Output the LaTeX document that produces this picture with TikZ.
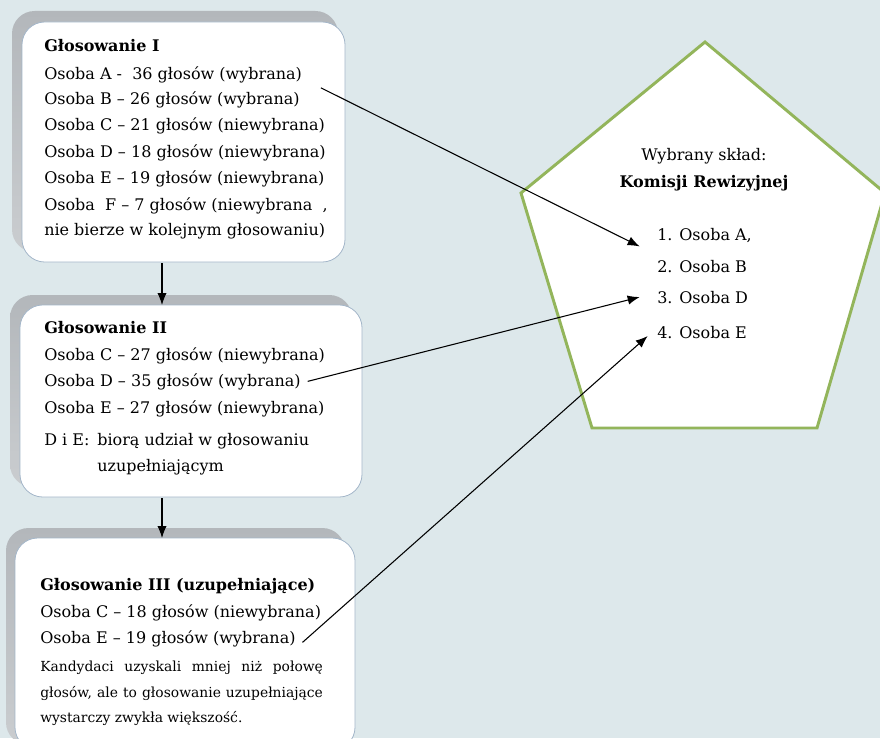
\documentclass[tikz,border=0pt]{standalone}
\usepackage{fontspec}
\setmainfont{DejaVu Serif}
\usetikzlibrary{arrows,arrows.meta,calc}

\definecolor{tlo}{HTML}{DDE8EB}
\definecolor{cien}{HTML}{B3B7BB}
\definecolor{ramka}{HTML}{A3B6C9}
\definecolor{ziel}{HTML}{93B55B}

\tikzset{
	linia/.style={anchor=base west,inner sep=0pt,font=\fontsize{12}{14}\selectfont},
	tytul/.style={linia,font=\fontsize{12}{14}\selectfont\bfseries},
	skrzynka/.style={draw=ramka,fill=white,rounded corners=17pt,line width=0.6pt},
	cienie/.style={top color=cien,bottom color=cien!70!white,rounded corners=17pt},
	strz/.style={-{Latex[length=9pt,width=7pt]},line width=0.8pt}
}

\begin{document}
\begin{tikzpicture}[x=0.75pt,y=-0.75pt]
		\fill[tlo] (0,0) rectangle (880,738);
		\useasboundingbox (0,0) rectangle (880,738);
		\clip (0,0) rectangle (880,738);
		% skrzynki
		\shade[cienie] (12,11) rectangle (338,252);
		\draw[skrzynka] (22,22) rectangle (345,262);
		\shade[cienie] (10,295) rectangle (352,487);
		\draw[skrzynka] (20,305) rectangle (362,497);
		\shade[cienie] (6,528) rectangle (345,745);
		\draw[skrzynka] (15,538) rectangle (355,750);
		% piecioklat
		\draw[ziel,fill=white,line width=2.2pt,line join=miter] (705,42) -- (885,193) -- (817,428) -- (592,428) -- (521,193) -- cycle;
		% glosowanie I
		\node[tytul] (g1) at (44,52) {Głosowanie I};
		\node[linia] (a1) at (44,80) {Osoba A -\ \ 36 głosów (wybrana)};
		\node[linia] (b1) at (44,105) {Osoba B – 26 głosów (wybrana)};
		\node[linia] (c1) at (44,131) {Osoba C – 21 głosów (niewybrana)};
		\node[linia] (d1) at (44,157) {Osoba D – 18 głosów (niewybrana)};
		\node[linia] (e1) at (44,183) {Osoba E – 19 głosów (niewybrana)};
		\node[linia] (f1) at (44,210) {Osoba\ \ F – 7 głosów (niewybrana\ \ ,};
		\node[linia] (f1b) at (44,235) {nie bierze w kolejnym głosowaniu)};
		% glosowanie II
		\node[tytul] (g2) at (44,333) {Głosowanie II};
		\node[linia] (c2) at (44,360) {Osoba C – 27 głosów (niewybrana)};
		\node[linia] (d2) at (44,386) {Osoba D – 35 głosów (wybrana)};
		\node[linia] (e2) at (44,413) {Osoba E – 27 głosów (niewybrana)};
		\node[linia] (de) at (44,445) {D i E:};
		\node[linia] (de1) at (97,445) {biorą udział w głosowaniu};
		\node[linia] (de2) at (97,471) {uzupełniającym};
		% glosowanie III
		\node[tytul] (g3) at (40,590) {Głosowanie III (uzupełniające)};
		\node[linia] (c3) at (40,617) {Osoba C – 18 głosów (niewybrana)};
		\node[linia] (e3) at (40,643) {Osoba E – 19 głosów (wybrana)};
		\node[linia,anchor=north west,text width=212pt,align=justify,font=\fontsize{10.4}{19}\selectfont] (uw) at (40,661)
			{Kandydaci uzyskali mniej niż połowę\linebreak głosów, ale to głosowanie uzupełniające\linebreak wystarczy zwykła większość.};
		% sklad
		\node[linia,anchor=base] (ws) at (704,160) {Wybrany skład:};
		\node[tytul,anchor=base] (kr) at (704,187) {Komisji Rewizyjnej};
		\node[linia] (w1) at (657,240) {1. Osoba A,};
		\node[linia] (w2) at (657,272) {2. Osoba B};
		\node[linia] (w3) at (657,303) {3. Osoba D};
		\node[linia] (w4) at (657,338) {4. Osoba E};
		% strzalki
		\coordinate (k1) at (162,263);
		\coordinate (k2) at (162,305);
		\coordinate (k2d) at (162,498);
		\coordinate (k3) at (162,538);
		\draw[strz] (k1) -- (k2);
		\draw[strz] (k2d) -- (k3);
		\draw[strz] ([xshift=14pt,yshift=-3pt]a1.south east) -- ([xshift=-13pt,yshift=-3pt]w1.south west);
		\draw[strz] ([xshift=5pt]d2.east) -- ([xshift=-13pt]w3.west);
		\draw[strz] ([xshift=5pt,yshift=-3pt]e3.east) -- ([xshift=-7pt,yshift=-3pt]w4.west);
		\end{tikzpicture}
\end{document}
